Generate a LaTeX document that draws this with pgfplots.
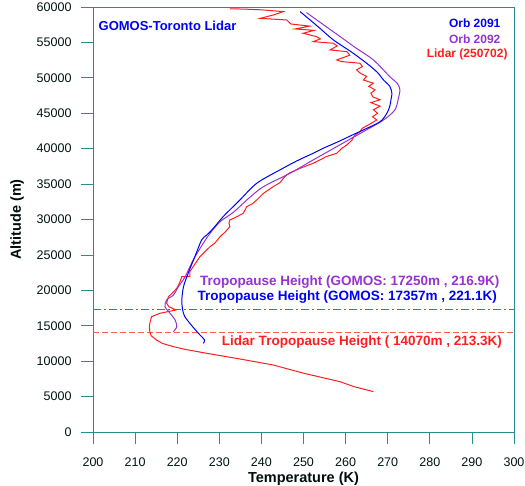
\documentclass[border=0pt]{standalone}
\usepackage{fontspec}
\setmainfont{Liberation Sans}
\usepackage{pgfplots}
\pgfplotsset{compat=1.18}
\definecolor{axteal}{RGB}{40,140,140}
\definecolor{orbblue}{RGB}{0,0,255}
\definecolor{orbpurple}{RGB}{150,50,210}
\definecolor{lidred}{RGB}{255,30,30}
\definecolor{tpred}{RGB}{255,90,90}
\begin{document}
\begin{tikzpicture}
\begin{axis}[
  name=ax,
  scale only axis, width=421pt, height=425pt,
  xmin=200, xmax=300, ymin=0, ymax=60000,
  xtick={200,210,...,300}, ytick={0,5000,...,60000},
  tick align=outside, major tick length=12pt,
  xtick pos=bottom, ytick pos=left,
  axis line style={axteal, line width=0.7pt},
  tick style={axteal, line width=0.8pt},
  ticklabel style={font=\fontsize{12.5}{14}\selectfont, text=black!85!teal},
  xticklabel style={yshift=-10pt},
  yticklabel style={xshift=-6pt},
  /pgf/number format/assume math mode=true,
  /pgf/number format/1000 sep={},
  scaled y ticks=false,
  xlabel={Temperature (K)}, ylabel={Altitude (m)},
  label style={font=\fontsize{14.5}{16}\selectfont\bfseries, text=black!90!teal},
  xlabel style={at={(rel axis cs:0.5,0)}, anchor=center, yshift=-47pt},
  ylabel style={at={(rel axis cs:-0.1805,0.5)}, anchor=center},
]
% Tropopause lines
\addplot[tpred, line width=0.6pt, dash pattern=on 6pt off 3pt] coordinates {(200,14070) (300,14070)};
\addplot[cyan!70!blue, line width=0.9pt, dash pattern=on 8pt off 3pt on 2pt off 3pt] coordinates {(200,17357) (300,17357)};
% Lidar
\addplot[lidred, line width=1pt] coordinates {
(266.6,5700) (262,6400) (258.7,7100) (250,8300) (242.8,9460) (235,10300) (227.0,11110)
(222,11650) (219.1,12050) (216.5,12500) (215.1,12990) (213.8,13600) (213.5,14160)
(213.4,14800) (213.5,15350) (213.9,16280) (215.9,16760) (219.7,17230) (218.0,17700)
(217.5,18170) (217.9,19100) (219.0,19700) (219.9,20290) (220.6,21100) (221.1,21930)
(223.0,21930) (223.0,22630) (224.2,23700) (225.4,24750) (226.5,25400) (227.8,26160)
(229.0,26700) (230.2,27580) (231.5,28300) (232.5,28990) (232.3,29500) (232.5,29930)
(234.2,30400) (235.7,30880) (236.5,31810) (237.8,32200) (238.9,32760) (240.5,33700)
(242.8,34640) (244.4,35200) (245.2,35800) (246.0,36300) (246.8,36600) (249.5,37300)
(252.3,37940) (253.9,38410) (255.5,38900) (257.9,39350) (259.0,40000) (260.3,40530)
(261.5,41200) (262.2,41900) (263.4,42400) (264.0,42900) (265.4,43350) (267.4,44050)
(266.4,44500) (267.6,45000) (266.6,45500) (268.2,46000) (266.0,46500) (268.2,46900)
(266.5,47300) (266.0,47830) (267.0,48300) (265.5,48800) (266.6,49240) (264.2,49700)
(265.0,50200) (263.5,50650) (262.6,51120) (264.0,51600) (263.4,52060) (259.0,52300)
(257.9,52530) (261.0,53200) (260.3,53700) (256.3,53940) (258.0,54500) (257.1,54880)
(252.3,55110) (254.0,55500) (253.1,55820) (249.9,56290) (252.5,56700) (248.0,56900)
(251.5,57300) (247.0,57600) (246.0,58170) (239.7,58400) (243.0,58900) (245.2,59350)
(240.0,59600) (236.0,59700) (232.5,59750)
};
% Orb 2092
\addplot[orbpurple, line width=1pt, smooth] coordinates {
(219.1,14160) (219.9,14870) (219.5,15810) (218.3,16760) (217.1,17700) (217.5,18640)
(219.1,19340) (220.3,20520) (221.9,21930) (223.8,24290) (226.2,26650) (227.8,28050)
(230.2,29700) (233.3,31000) (237.0,33000) (240.5,34640) (246.8,36530) (252.3,38410)
(257.9,40290) (264.2,42400) (269.0,44050) (271.7,45470) (272.5,47000) (272.9,48290)
(272.3,49200) (270.5,50170) (266.6,52530) (262.5,54200) (258.7,55820) (250.7,59210)
};
% Orb 2091
\addplot[orbblue, line width=1pt, smooth] coordinates {
(226.2,12520) (226.5,13000) (225.4,13700) (224.2,14500) (223.0,15350) (221.8,16300)
(221.3,17230) (221.1,18640) (221.5,20520) (222.6,22400) (224.2,24750) (225.8,27110)
(227.0,27800) (228.5,28700) (230.9,30400) (232.5,31350) (234.9,32760) (238.9,35120)
(244.4,37000) (248.5,38300) (252.3,39350) (254.7,40060) (258.3,41000) (261.5,41900)
(264.2,42640) (268.2,43810) (269.8,45000) (270.5,46000) (270.8,47000) (271.0,47800)
(270.5,48800) (269.0,49700) (267.5,50800) (265.0,52060) (261.5,53600) (257.1,55350)
(253.5,57200) (249.2,59350)
};
% Text
\node[anchor=west, orbblue, font=\fontsize{13}{15}\selectfont\bfseries] at (axis cs:200.5,57300) {GOMOS-Toronto Lidar};
\node[anchor=east, orbblue, font=\fontsize{12}{14}\selectfont\bfseries] at (axis cs:297.6,57750) {Orb 2091};
\node[anchor=east, orbpurple, font=\fontsize{12}{14}\selectfont\bfseries] at (axis cs:297.6,55500) {Orb 2092};
\node[anchor=east, lidred, font=\fontsize{12}{14}\selectfont\bfseries] at (axis cs:299.3,53300) {Lidar (250702)};
\node[anchor=west, orbpurple, font=\fontsize{13.5}{15}\selectfont\bfseries] at (axis cs:224.6,21200) {Tropopause Height (GOMOS: 17250m , 216.9K)};
\node[anchor=west, orbblue, font=\fontsize{13.5}{15}\selectfont\bfseries] at (axis cs:224.0,19050) {Tropopause Height (GOMOS: 17357m , 221.1K)};
\node[anchor=west, lidred, font=\fontsize{13.5}{15}\selectfont\bfseries] at (axis cs:229.8,12700) {Lidar Tropopause Height ( 14070m , 213.3K)};
\end{axis}
\pgfresetboundingbox
\path[use as bounding box] ([xshift=-93pt,yshift=-53pt]ax.south west) rectangle ([xshift=11pt,yshift=7pt]ax.north east);
\end{tikzpicture}
\end{document}
